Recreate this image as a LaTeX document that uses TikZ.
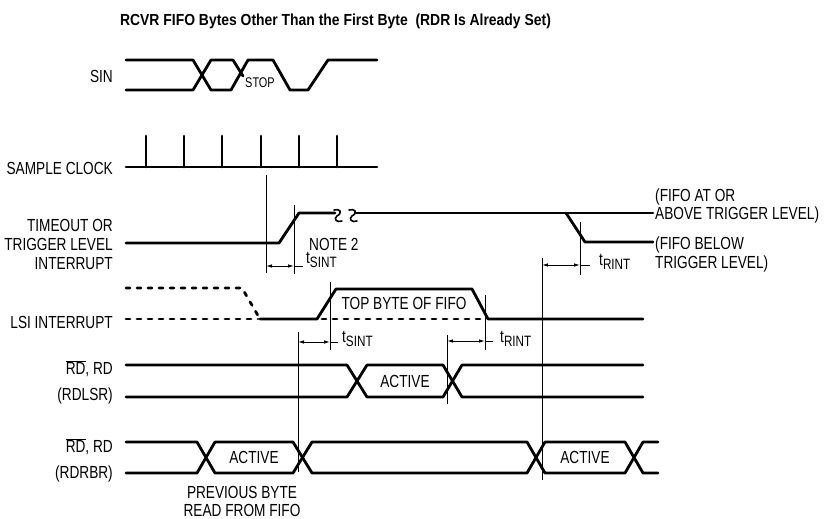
\documentclass[tikz,border=0pt]{standalone}
\usepackage{fontspec}
\setmainfont[FakeStretch=0.78]{Liberation Sans}
\newfontfamily\titlefont[FakeStretch=0.87]{Liberation Sans}
\usetikzlibrary{arrows.meta}
\newcommand\tdim[1]{t\raisebox{-4pt}{\fontsize{15}{15}\selectfont #1}}
\begin{document}
\begin{tikzpicture}[x=1pt,y=-1pt,
  sig/.style={line width=2.8pt,line cap=round,line join=round},
  dsig/.style={line width=2.8pt,line cap=round,dash pattern=on 4pt off 7pt},
  thinline/.style={line width=0.9pt},
  squig/.style={line width=1.6pt,line cap=round},
  dimarrow/.style={line width=0.9pt,{Latex[length=6pt,width=3.5pt]}-{Latex[length=6pt,width=3.5pt]}},
  lbl/.style={font=\fontsize{17.5}{20}\selectfont,inner sep=0pt,text height=12.5pt,text depth=0pt},
  sublbl/.style={font=\fontsize{17.5}{20}\selectfont,inner sep=0pt},
  small/.style={font=\fontsize{14}{16}\selectfont,inner sep=0pt,text height=10pt,text depth=0pt}]
\useasboundingbox (0,0) rectangle (824,519);
% title
\node[inner sep=0pt,font=\titlefont\bfseries\fontsize{16}{19}\selectfont] (title) at (335.5,21) {RCVR FIFO Bytes Other Than the First Byte\ \ (RDR Is Already Set)};
% left labels
\node[lbl,anchor=east] (lsin) at (113,76) {SIN};
\node[lbl,anchor=east] (lclk) at (113,168) {SAMPLE CLOCK};
\node[lbl,anchor=east] (lto1) at (113,225) {TIMEOUT OR};
\node[lbl,anchor=east] (lto2) at (113,244) {TRIGGER LEVEL};
\node[lbl,anchor=east] (lto3) at (113,263) {INTERRUPT};
\node[lbl,anchor=east] (llsi) at (113,322) {LSI INTERRUPT};
\node[lbl,anchor=east] (lrd1) at (113,368) {$\overline{\mbox{RD}}$, RD};
\node[lbl,anchor=east] (lrd1b) at (113,394) {(RDLSR)};
\node[lbl,anchor=east] (lrd2) at (113,446) {$\overline{\mbox{RD}}$, RD};
\node[lbl,anchor=east] (lrd2b) at (113,472) {(RDRBR)};
% right labels
\node[lbl,anchor=west] (r1) at (655,195) {(FIFO AT OR};
\node[lbl,anchor=west] (r2) at (655,213) {ABOVE TRIGGER LEVEL)};
\node[lbl,anchor=west] (r3) at (655,243) {(FIFO BELOW};
\node[lbl,anchor=west] (r4) at (655,262) {TRIGGER LEVEL)};
% SIN
\draw[sig] (126,60)--(193,60)--(211,90)--(231,90)--(248,60)--(273,60)--(290,90)--(308,90)--(328,60)--(377,60);
\draw[sig] (126,90)--(193,90)--(211,60)--(233,60)--(243,76);
\node[small] (stop) at (260,83) {STOP};
% sample clock
\draw[sig] (126,167)--(377,167);
\foreach \xx in {146,184,222,261,299,337}
  \draw[sig] (\xx,167)--(\xx,136);
% timeout / trigger level interrupt
\draw[sig] (126,243)--(279,243)--(299,213)--(335,213);
\draw[squig] (334,210) .. controls (340,208) and (343,213) .. (337,216) .. controls (333,219) and (337,223) .. (342,221);
\draw[squig] (349,210) .. controls (355,208) and (358,213) .. (352,216) .. controls (348,219) and (352,223) .. (357,221);
\draw[sig] (356,213)--(653,213);
\draw[sig] (566,213)--(585,242)--(653,242);
\node[lbl,anchor=west] (note) at (309,244) {NOTE 2};
% LSI interrupt
\draw[dsig] (126,288)--(242,288)--(260,319);
\draw[dsig] (126,319)--(258,319);
\draw[dsig] (322,319)--(484,319);
\draw[sig] (260,319)--(317,319)--(336,289)--(472,289)--(488,319)--(643,319);
\node[lbl] (topbyte) at (404,303) {TOP BYTE OF FIFO};
% RD RDLSR
\draw[sig] (126,365)--(347,365)--(367,397)--(443,397)--(462,365)--(643,365);
\draw[sig] (126,397)--(347,397)--(367,365)--(443,365)--(462,397)--(643,397);
\node[lbl] (act1) at (405,381) {ACTIVE};
% RD RDRBR
\draw[sig] (126,442)--(197,442)--(215,473)--(293,473)--(312,442)--(527,442)--(545,473)--(625,473)--(643,442)--(658,442);
\draw[sig] (126,473)--(197,473)--(215,442)--(293,442)--(312,473)--(527,473)--(545,442)--(625,442)--(643,473)--(658,473);
\node[lbl] (act2) at (254,457) {ACTIVE};
\node[lbl] (act3) at (585,457) {ACTIVE};
\node[lbl] (prev1) at (242,492) {PREVIOUS BYTE};
\node[lbl] (prev2) at (242,510) {READ FROM FIFO};
% timing reference lines
\coordinate (v1t) at (266,175); \coordinate (v1b) at (266,273);
\coordinate (v2t) at (294,205); \coordinate (v2b) at (294,274);
\coordinate (v3t) at (330,282); \coordinate (v3b) at (330,350);
\coordinate (v4t) at (298,332); \coordinate (v4b) at (298,472);
\coordinate (v5t) at (447,335); \coordinate (v5b) at (447,404);
\coordinate (v6t) at (485,295); \coordinate (v6b) at (485,350);
\coordinate (v7t) at (542,258); \coordinate (v7b) at (542,480);
\coordinate (v8t) at (580,222); \coordinate (v8b) at (580,275);
\foreach \v in {1,...,8} \draw[thinline] (v\v t)--(v\v b);
% dimension arrows
\draw[dimarrow] (266,266)--(294,266);
\draw[thinline] (294,266)--(303,266);
\node[sublbl,anchor=base west] (ts1) at (306,263) {\tdim{SINT}};
\draw[dimarrow] (542,265)--(580,265);
\draw[thinline] (580,265)--(590,265);
\node[sublbl,anchor=base west] (tr1) at (599,265) {\tdim{RINT}};
\draw[dimarrow] (298,342)--(330,342);
\draw[thinline] (330,342)--(338,342);
\node[sublbl,anchor=base west] (ts2) at (342,342) {\tdim{SINT}};
\draw[dimarrow] (447,341)--(485,341);
\draw[thinline] (485,341)--(493,341);
\node[sublbl,anchor=base west] (tr2) at (500,342) {\tdim{RINT}};
\end{tikzpicture}
\end{document}
